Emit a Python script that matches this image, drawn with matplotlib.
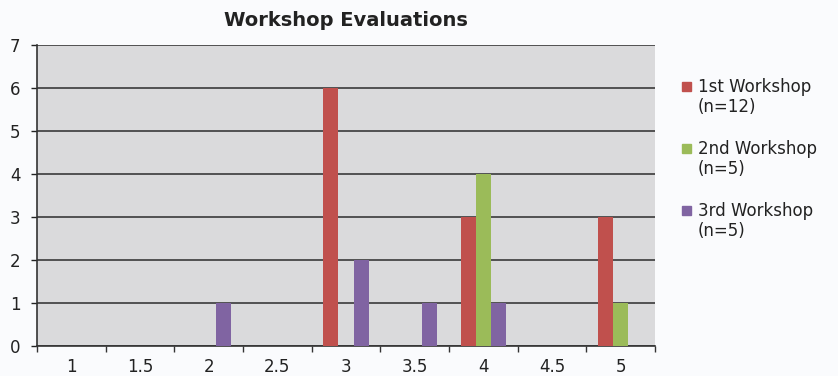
import numpy as np
import matplotlib.pyplot as plt
from matplotlib.patches import Rectangle

plt.rcParams['font.family'] = ['DejaVu Sans']

# ratings on the x axis and counts per workshop
categories = ['1', '1.5', '2', '2.5', '3', '3.5', '4', '4.5', '5']
first_ws = [0, 0, 0, 0, 6, 0, 3, 0, 3]
second_ws = [0, 0, 0, 0, 0, 0, 4, 0, 1]
third_ws = [0, 0, 1, 0, 2, 1, 1, 0, 0]
series_labels = ['1st Workshop\n(n=12)', '2nd Workshop\n(n=5)', '3rd Workshop\n(n=5)']
colors = ['#c0504d', '#9bbb59', '#8064a2']

W, H = 838, 376
fig = plt.figure(figsize=(W / 100, H / 100), dpi=100, facecolor='#fafbfd')
ax = fig.add_axes([37 / W, 1 - 346 / H, (655 - 37) / W, (346 - 45) / H])
ax.set_facecolor('#dadadc')

x = np.arange(len(categories))
w = 0.22
for k, (vals, c) in enumerate(zip([first_ws, second_ws, third_ws], colors)):
    ax.bar(x + (k - 1) * w, vals, width=w, color=c, zorder=3)

ax.set_xlim(-0.5, len(categories) - 0.5)
ax.set_ylim(0, 7)
ax.set_yticks(range(8))
ax.yaxis.grid(True, color='#3a3a3a', linewidth=1.2, zorder=1)
ax.set_axisbelow(True)

ax.set_xticks(x)
ax.set_xticklabels(categories)
ax.set_xticks(np.arange(-0.5, len(categories), 1), minor=True)
ax.tick_params(axis='x', which='major', length=0, pad=9, labelsize=12, colors='#222222')
ax.tick_params(axis='x', which='minor', length=4, width=1, direction='out', color='#333333')
ax.tick_params(axis='y', length=4, width=1, direction='out', pad=8, labelsize=12,
               colors='#222222')

for s in ['top', 'right']:
    ax.spines[s].set_visible(False)
for s in ['left', 'bottom']:
    ax.spines[s].set_color('#333333')
    ax.spines[s].set_linewidth(1.2)

ax.set_title('Workshop Evaluations', fontsize=14, fontweight='bold', color='#222222', pad=14)

# legend drawn by hand: square marker beside the first line of a two-line label
for k, (lab, c) in enumerate(zip(series_labels, colors)):
    top = 78 + k * 62
    fig.patches.append(Rectangle((682 / W, 1 - (top + 13) / H), 9 / W, 9 / H,
                                 transform=fig.transFigure, color=c, figure=fig))
    fig.text(698 / W, 1 - top / H, lab, fontsize=12, color='#222222',
             va='top', ha='left', linespacing=1.15)

plt.savefig('out.png', dpi=100, facecolor=fig.get_facecolor())
